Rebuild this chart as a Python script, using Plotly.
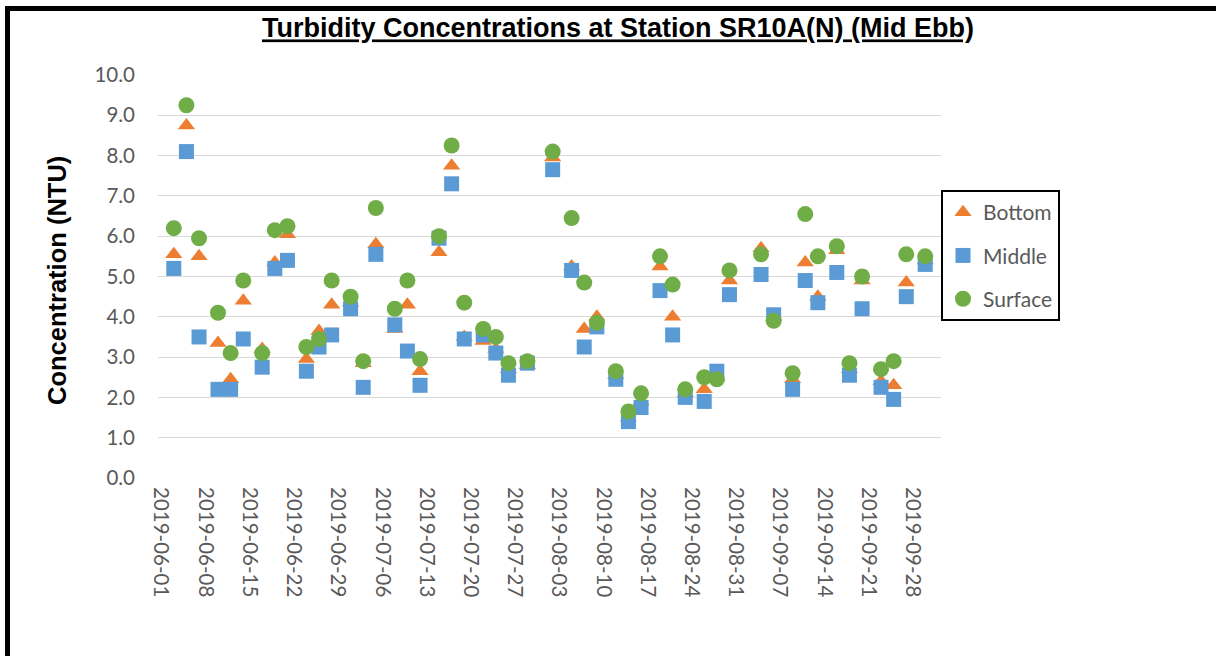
import plotly.graph_objects as go

# Sampling dates (Mon / Wed / Fri surveys)
dates = [
    "2019-06-03", "2019-06-05", "2019-06-07", "2019-06-10", "2019-06-12", "2019-06-14",
    "2019-06-17", "2019-06-19", "2019-06-21", "2019-06-24", "2019-06-26", "2019-06-28",
    "2019-07-01", "2019-07-03", "2019-07-05", "2019-07-08", "2019-07-10", "2019-07-12",
    "2019-07-15", "2019-07-17", "2019-07-19", "2019-07-22", "2019-07-24", "2019-07-26",
    "2019-07-29", "2019-08-02", "2019-08-05", "2019-08-07", "2019-08-09",
    "2019-08-12", "2019-08-14", "2019-08-16", "2019-08-19", "2019-08-21", "2019-08-23",
    "2019-08-26", "2019-08-28", "2019-08-30", "2019-09-04", "2019-09-06",
    "2019-09-09", "2019-09-11", "2019-09-13", "2019-09-16", "2019-09-18", "2019-09-20",
    "2019-09-23", "2019-09-25", "2019-09-27", "2019-09-30",
]

# Turbidity (NTU) at each depth
bottom = [
    5.55, 8.75, 5.50, 3.35, 2.45, 4.40,
    3.20, 5.35, 6.05, 2.95, 3.65, 4.30,
    4.35, 2.85, 5.80, 3.70, 4.30, 2.65,
    5.60, 7.75, 3.50, 3.40, 3.20, 2.70,
    2.80, 7.95, 5.25, 3.70, 4.00,
    2.55, 1.50, 1.90, 5.25, 4.00, 2.10,
    2.20, 2.50, 4.90, 5.70, 4.00,
    2.45, 5.35, 4.50, 5.65, 2.70, 4.90,
    2.40, 2.30, 4.85, 5.40,
]
middle = [
    5.20, 8.10, 3.50, 2.20, 2.20, 3.45,
    2.75, 5.20, 5.40, 2.65, 3.25, 3.55,
    4.20, 2.25, 5.55, 3.80, 3.15, 2.30,
    5.95, 7.30, 3.45, 3.55, 3.10, 2.55,
    2.85, 7.65, 5.15, 3.25, 3.75,
    2.45, 1.40, 1.75, 4.65, 3.55, 2.00,
    1.90, 2.65, 4.55, 5.05, 4.05,
    2.20, 4.90, 4.35, 5.10, 2.55, 4.20,
    2.25, 1.95, 4.50, 5.30,
]
surface = [
    6.20, 9.25, 5.95, 4.10, 3.10, 4.90,
    3.10, 6.15, 6.25, 3.25, 3.45, 4.90,
    4.50, 2.90, 6.70, 4.20, 4.90, 2.95,
    6.00, 8.25, 4.35, 3.70, 3.50, 2.85,
    2.90, 8.10, 6.45, 4.85, 3.85,
    2.65, 1.65, 2.10, 5.50, 4.80, 2.20,
    2.50, 2.45, 5.15, 5.55, 3.90,
    2.60, 6.55, 5.50, 5.75, 2.85, 5.00,
    2.70, 2.90, 5.55, 5.50,
]

series = [
    ("Bottom", bottom, "#ED7D31", "triangle-up", 15),
    ("Middle", middle, "#5B9BD5", "square", 15),
    ("Surface", surface, "#70AD47", "circle", 16),
]

tick_font = dict(family="Lato, 'Open Sans', sans-serif", size=20.5, color="#595959")

fig = go.Figure()
for i, (name, vals, color, symbol, size) in enumerate(series):
    fig.add_trace(go.Scatter(
        x=dates, y=vals, name=name, mode="markers",
        legendgroup=f"g{i}",
        marker=dict(color=color, symbol=symbol, size=size,
                    line=dict(width=0)),
    ))

# plot area in pixels: x 158..941, y 75..478
L, R, T, B = 158, 941, 75, 478
W, H = 1216, 656

def px_x(px):
    return (px - L) / (R - L)

def px_y(py):
    return (B - py) / (B - T)

fig.update_layout(
    width=W, height=H,
    margin=dict(l=L, r=W - R, t=T, b=H - B),
    paper_bgcolor="white", plot_bgcolor="white",
    showlegend=True,
    legend=dict(
        x=1.0, xanchor="left", y=px_y(190), yanchor="top",
        bordercolor="black", borderwidth=2,
        font=dict(family="Lato, 'Open Sans', sans-serif", size=21, color="#595959"),
        tracegroupgap=13,
        itemsizing="trace",
    ),
    title=dict(
        text="<b><u>Turbidity Concentrations at Station SR10A(N) (Mid Ebb)</u></b>",
        font=dict(family="Liberation Sans, Arial, sans-serif", size=27, color="black"),
        x=618 / W, xref="container", xanchor="center",
        y=1 - 28 / H, yref="container", yanchor="middle",
    ),
    xaxis=dict(
        type="date",
        range=["2019-05-31 12:00", "2019-10-02 12:00"],
        tick0="2019-06-01", dtick=7 * 86400000,
        tickformat="%Y-%m-%d", tickangle=90,
        tickfont=tick_font,
        showgrid=False, zeroline=False, showline=False,
        ticks="", ticklabelstandoff=8,
    ),
    yaxis=dict(
        range=[0, 10], dtick=1, tickformat=".1f",
        tickfont=tick_font,
        showgrid=True, gridcolor="#D9D9D9", gridwidth=1.3,
        zeroline=False, showline=False,
        ticks="", ticklabelstandoff=22,
    ),
    annotations=[
        dict(
            text="<b>Concentration (NTU)</b>",
            textangle=-90,
            font=dict(family="Liberation Sans, Arial, sans-serif", size=25.5, color="black"),
            x=px_x(57), y=px_y(281), xref="paper", yref="paper",
            xanchor="center", yanchor="middle", showarrow=False,
        ),
    ],
    shapes=[
        # outer frame (top and left edges)
        dict(type="line", xref="paper", yref="paper",
             x0=px_x(5), x1=px_x(1230), y0=px_y(8.5), y1=px_y(8.5),
             line=dict(color="black", width=5)),
        dict(type="line", xref="paper", yref="paper",
             x0=px_x(7.5), x1=px_x(7.5), y0=px_y(6), y1=px_y(670),
             line=dict(color="black", width=5)),
    ],
)

fig.write_html("out.html")
